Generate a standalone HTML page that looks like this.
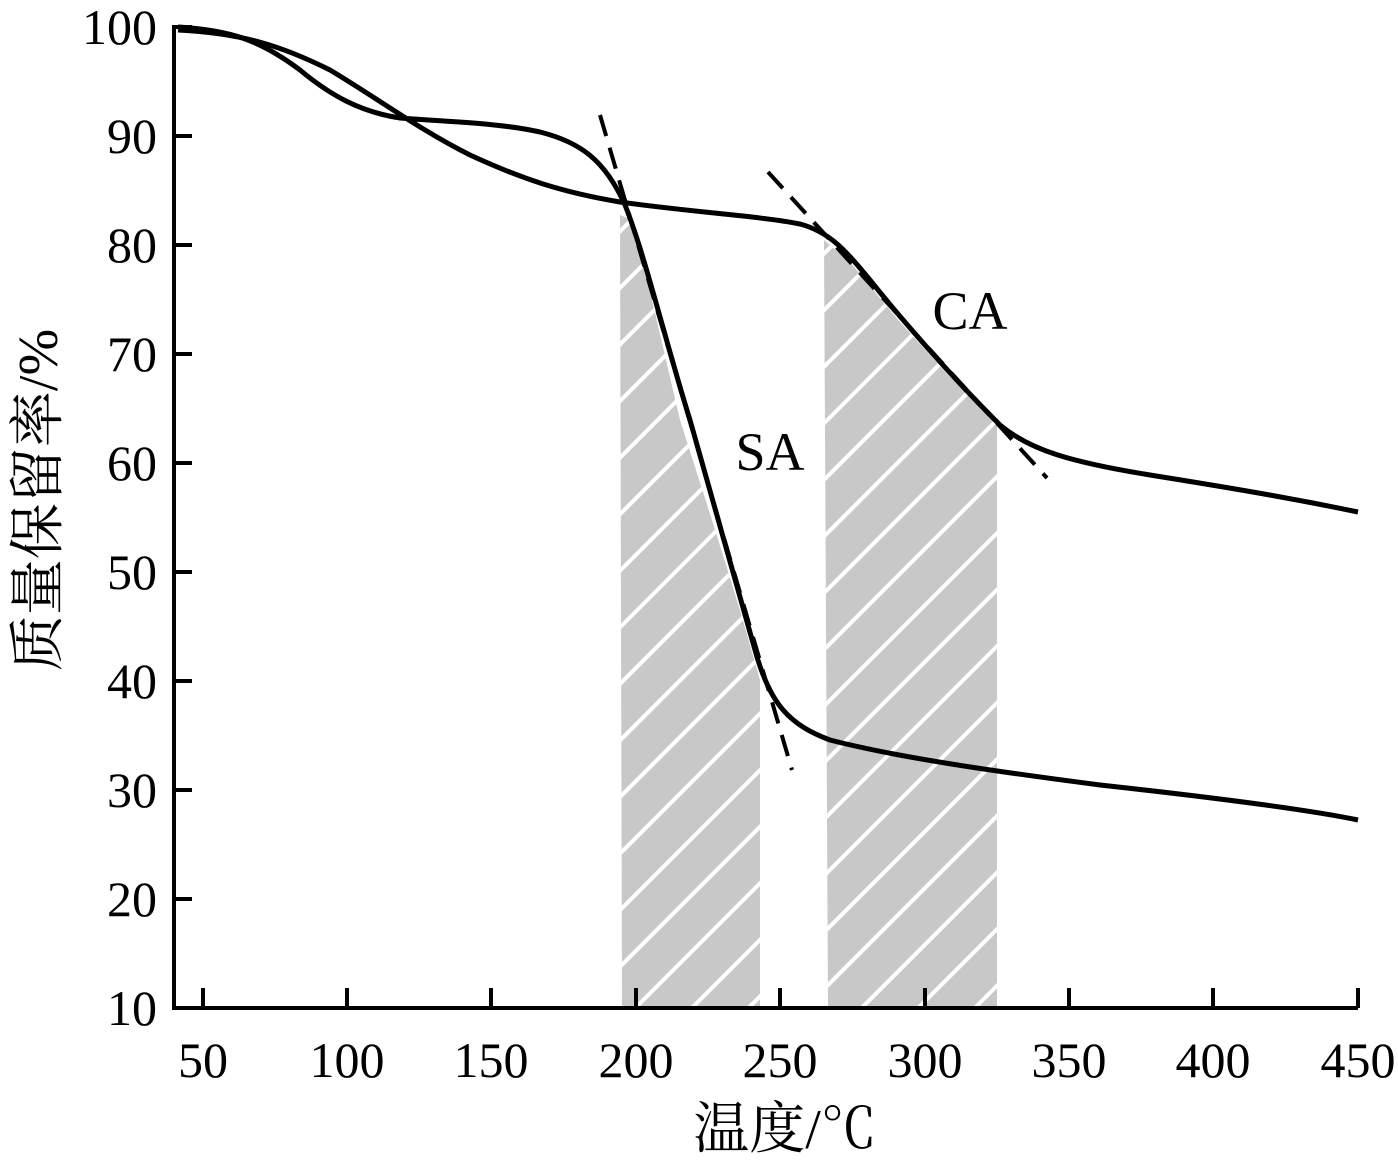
<!DOCTYPE html>
<html><head><meta charset="utf-8"><style>body{margin:0;background:#fff}</style></head><body>
<svg width="1398" height="1157" xmlns="http://www.w3.org/2000/svg" font-family="Liberation Serif, Noto Serif CJK SC, serif">
<defs>
<pattern id="h" patternUnits="userSpaceOnUse" width="40" height="40" patternTransform="rotate(-45)">
<rect width="40" height="40" fill="#c8c8c8"/><rect y="0" width="40" height="4" fill="#fff"/>
</pattern>
</defs>
<polygon points="620,215 632,220 652,300 680,420 712,520 740,610 760,680 760,1008 622,1008" fill="url(#h)"/>
<polygon points="824,240 850,262 900,322 950,377 997,420 997,1008 828,1008" fill="url(#h)"/>
<g fill="none" stroke="#000" stroke-width="4">
<path d="M174,25 V1008 H1358"/>
<path d="M203,1008v-20M347,1008v-20M491,1008v-20M636,1008v-20M780,1008v-20M925,1008v-20M1069,1008v-20M1213,1008v-20M1358,1008v-20"/>
<path d="M174,136h18M174,245h18M174,354h18M174,463h18M174,572h18M174,681h18M174,790h18M174,899h18M174,27h18"/>
<path stroke-width="5" d="M178,27 C230,30 260,40 300,70 C330,95 360,112 400,118 C450,122 500,123 540,132 C580,142 605,160 625,205 C645,255 665,340 690,420 C710,490 730,560 755,650 C770,705 790,725 830,740 C900,758 1000,772 1100,785 C1200,796 1300,808 1358,820"/>
<path stroke-width="5" d="M178,30 C240,33 280,45 330,70 C380,100 420,130 470,155 C520,178 560,192 620,202 C690,212 760,216 800,224 C830,232 845,250 870,280 C910,330 960,385 1000,425 C1030,450 1070,462 1150,475 C1250,491 1300,500 1358,512"/>
<path stroke-dasharray="22,12" d="M600,115 L792,770 M768,172 L1047,478"/>
</g>
<g font-size="50" text-anchor="end">
<text x="157" y="44">100</text><text x="157" y="153">90</text><text x="157" y="262">80</text><text x="157" y="371">70</text><text x="157" y="480">60</text><text x="157" y="589">50</text><text x="157" y="698">40</text><text x="157" y="807">30</text><text x="157" y="916">20</text><text x="157" y="1025">10</text>
</g>
<g font-size="50" text-anchor="middle">
<text x="203" y="1077">50</text><text x="347" y="1077">100</text><text x="491" y="1077">150</text><text x="636" y="1077">200</text><text x="780" y="1077">250</text><text x="925" y="1077">300</text><text x="1069" y="1077">350</text><text x="1213" y="1077">400</text><text x="1358" y="1077">450</text>
<text x="785" y="1148" font-size="56">温度/℃</text>
<text x="970" y="329" font-size="54">CA</text>
<text x="770" y="470" font-size="54">SA</text>
<text transform="translate(57,500) rotate(-90)" font-size="56">质量保留率/%</text>
</g>
</svg>
</body></html>
